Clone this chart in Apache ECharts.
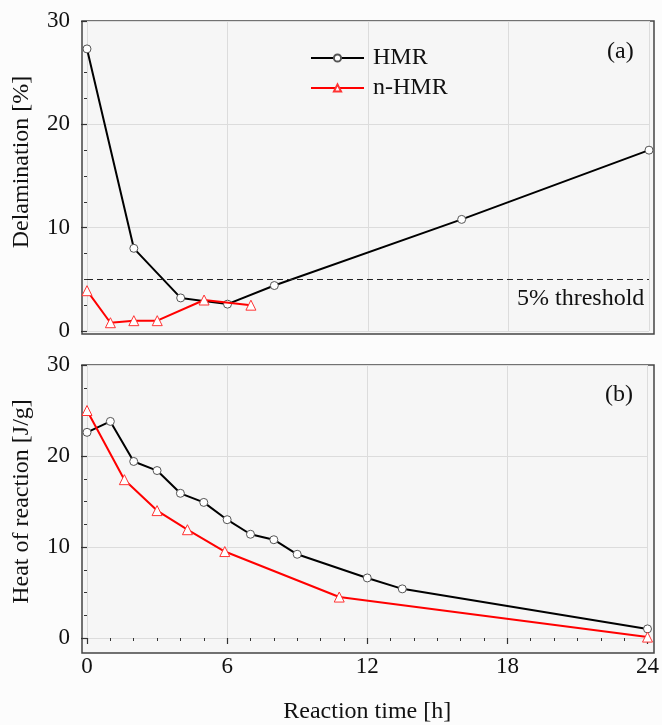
<!DOCTYPE html>
<html>
<head>
<meta charset="utf-8">
<script src="https://cdn.jsdelivr.net/npm/echarts@6/dist/echarts.min.js"></script>
<style>
html,body{margin:0;padding:0;background:#fcfcfc;}
#chart{width:662px;height:725px;}
</style>
</head>
<body>
<div id="chart"></div>
<script>
// Panel (a): Delamination [%]
const hmrTimeA = [0, 2, 4, 6, 8, 16, 24];
const hmrDelam = [27.3, 8.0, 3.2, 2.6, 4.4, 10.8, 17.5];
const nhmrTimeA = [0, 1, 2, 3, 5, 7];
const nhmrDelam = [3.9, 0.8, 1.0, 1.0, 3.0, 2.5];
const threshold = 5;

// Panel (b): Heat of reaction [J/g]
const hmrTimeB = [0, 1, 2, 3, 4, 5, 6, 7, 8, 9, 12, 13.5, 24];
const hmrHeat = [22.6, 23.8, 19.4, 18.4, 15.9, 14.9, 13.0, 11.4, 10.8, 9.2, 6.6, 5.4, 1.0];
const nhmrTimeB = [0, 1.6, 3, 4.3, 5.9, 10.8, 24];
const nhmrHeat = [25.0, 17.4, 14.0, 11.9, 9.5, 4.5, 0.1];

const xTicks = [0, 6, 12, 18, 24];
const yTicks = [0, 10, 20, 30];

const FONT = 'Liberation Serif';
const pairs = (xs, ys) => xs.map((x, i) => [x, ys[i]]);

const chart = echarts.init(document.getElementById('chart'), null, {renderer: 'canvas'});

const gridLine = {show: true, lineStyle: {color: '#dcdcdc', width: 1}};
function xAxisCfg(gridIndex, showLabels, offset) {
  return {
    type: 'value', gridIndex, min: xTicks[0], max: xTicks[xTicks.length - 1], interval: 6,
    offset,
    axisLine: {show: false},
    axisTick: {show: showLabels, length: 6, inside: false, lineStyle: {color: '#333', width: 1.2}},
    minorTick: {show: showLabels, splitNumber: 6, length: 3, lineStyle: {color: '#333', width: 1}},
    axisLabel: {show: showLabels, fontFamily: FONT, fontSize: 23, color: '#111', margin: 12},
    splitLine: gridLine,
    name: showLabels ? 'Reaction time [h]' : '',
    nameLocation: 'middle', nameGap: 57,
    nameTextStyle: {fontFamily: FONT, fontSize: 24, color: '#111'}
  };
}
function yAxisCfg(gridIndex, name, namePad) {
  return {
    type: 'value', gridIndex, min: yTicks[0], max: yTicks[yTicks.length - 1], interval: 10,
    offset: 5,
    axisLine: {show: false},
    axisTick: {show: true, length: 6, lineStyle: {color: '#333', width: 1.2}},
    minorTick: {show: true, splitNumber: 4, length: 3, lineStyle: {color: '#333', width: 1}},
    axisLabel: {fontFamily: FONT, fontSize: 23, color: '#111', margin: 12},
    splitLine: gridLine,
    name, nameLocation: 'middle', nameGap: 48,
    nameTextStyle: {fontFamily: FONT, fontSize: 24, color: '#111', padding: namePad}
  };
}

const hmrStyle = {
  type: 'line', symbol: 'circle', symbolSize: 8, color: '#000',
  lineStyle: {color: '#000', width: 2},
  itemStyle: {color: '#fff', borderColor: '#555', borderWidth: 1}
};
const nhmrStyle = {
  type: 'line', symbol: 'triangle', symbolSize: 10, color: '#f00',
  lineStyle: {color: '#f00', width: 2},
  itemStyle: {color: '#fff', borderColor: '#f33', borderWidth: 1}
};

const option = {
  backgroundColor: '#fcfcfc',
  animation: false,
  grid: [
    {left: 87, right: 13, top: 21, bottom: 394},
    {left: 87, right: 13, top: 365, bottom: 77}
  ],
  xAxis: [xAxisCfg(0, false, 3), xAxisCfg(1, true, 5)],
  yAxis: [yAxisCfg(0, 'Delamination [%]', [0, 0, 0, 28]), yAxisCfg(1, 'Heat of reaction [J/g]', 0)],
  legend: {
    orient: 'vertical', left: 310, top: 46, padding: 0,
    itemWidth: 53, itemHeight: 9, itemGap: 6,
    textStyle: {fontFamily: FONT, fontSize: 24, color: '#111', padding: [0, 0, 0, 4]},
    data: ['HMR', 'n-HMR']
  },
  graphic: [
    {type: 'rect', z: -100, silent: true, shape: {x: 82, y: 21, width: 572, height: 313},
     style: {fill: '#f6f6f6', stroke: '#444', lineWidth: 1.5}},
    {type: 'rect', z: -100, silent: true, shape: {x: 82, y: 365, width: 572, height: 288},
     style: {fill: '#f6f6f6', stroke: '#444', lineWidth: 1.5}},
    {type: 'text', left: 607, top: 40, style: {text: '(a)', font: '24px "Liberation Serif"', fill: '#111'}},
    {type: 'text', left: 605, top: 383, style: {text: '(b)', font: '24px "Liberation Serif"', fill: '#111'}},
    {type: 'text', left: 517, top: 287, style: {text: '5% threshold', font: '24px "Liberation Serif"', fill: '#111'}}
  ],
  series: [
    Object.assign({}, hmrStyle, {
      name: 'HMR', xAxisIndex: 0, yAxisIndex: 0, data: pairs(hmrTimeA, hmrDelam), z: 3,
      markLine: {silent: true, symbol: 'none', label: {show: false},
        lineStyle: {color: '#222', type: [6, 4], width: 1},
        data: [{yAxis: threshold}]}
    }),
    Object.assign({}, nhmrStyle, {
      name: 'n-HMR', xAxisIndex: 0, yAxisIndex: 0, data: pairs(nhmrTimeA, nhmrDelam), z: 4
    }),
    Object.assign({}, hmrStyle, {
      name: 'HMR', xAxisIndex: 1, yAxisIndex: 1, data: pairs(hmrTimeB, hmrHeat), z: 3
    }),
    Object.assign({}, nhmrStyle, {
      name: 'n-HMR', xAxisIndex: 1, yAxisIndex: 1, data: pairs(nhmrTimeB, nhmrHeat), z: 4
    })
  ]
};
chart.setOption(option);
</script>
</body>
</html>
